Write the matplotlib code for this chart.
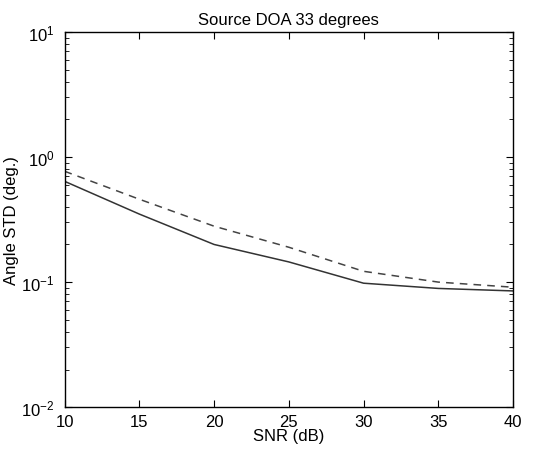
import numpy as np
import matplotlib
matplotlib.use("Agg")
import matplotlib.pyplot as plt

plt.rcParams['font.family'] = ['Liberation Sans', 'DejaVu Sans']

# data
snr_db = [10, 15, 20, 25, 30, 35, 40]
std_solid = [0.64, 0.35, 0.20, 0.145, 0.098, 0.089, 0.085]
std_dashed = [0.77, 0.46, 0.28, 0.19, 0.122, 0.100, 0.091]

fig = plt.figure(figsize=(5.47, 4.52), dpi=100)
ax = fig.add_axes([0.118, 0.097, 0.820, 0.830])

ax.semilogy(snr_db, std_solid, color='#333333', linestyle='-', linewidth=1.1)
ax.semilogy(snr_db, std_dashed, color='#444444', linestyle=(0, (5, 4)), linewidth=1.1)

ax.set_xlim(10, 40)
ax.set_ylim(1e-2, 1e1)
ax.set_xticks(np.arange(10, 41, 5))
ax.tick_params(which='both', direction='in', top=True, right=True, labelsize=12)
ax.tick_params(which='major', length=5)
ax.tick_params(which='minor', length=3)
ax.tick_params(axis='y', pad=7)
ax.tick_params(axis='x', pad=5)
for s in ax.spines.values():
    s.set_linewidth(1.0)

ax.set_title('Source DOA 33 degrees', fontsize=12)
ax.set_xlabel('SNR (dB)', fontsize=12, labelpad=-1)
ax.set_ylabel('Angle STD (deg.)', fontsize=12, labelpad=2)

fig.savefig('out.png', dpi=100)
